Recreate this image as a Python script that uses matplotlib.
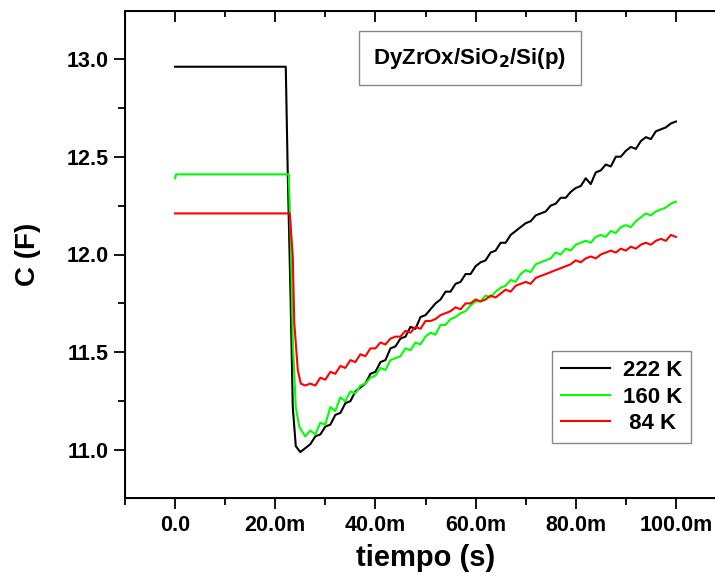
import numpy as np
import matplotlib
matplotlib.use("Agg")
import matplotlib.pyplot as plt
from matplotlib.ticker import FuncFormatter, MultipleLocator

plt.rcParams['font.family'] = ['Liberation Sans', 'DejaVu Sans']
plt.rcParams['font.weight'] = 'bold'

# times in ms; flat part + drop for each curve, then a common 1 ms grid
t_tail = np.arange(26, 101)

t_222 = [0, 22.1, 22.5, 23.1, 23.5, 24.1, 25.0]
c_222 = [12.96, 12.96, 12.41, 11.73, 11.22, 11.02, 10.99]
tail_222 = [11.01, 11.03, 11.07, 11.08, 11.12, 11.13, 11.18, 11.19, 11.24, 11.25,
            11.30, 11.32, 11.34, 11.39, 11.40, 11.45, 11.46, 11.52, 11.53, 11.57,
            11.58, 11.63, 11.62, 11.68, 11.69, 11.72, 11.75, 11.77, 11.81, 11.81,
            11.85, 11.86, 11.90, 11.90, 11.94, 11.96, 11.97, 12.01, 12.02, 12.06,
            12.06, 12.10, 12.12, 12.14, 12.16, 12.17, 12.20, 12.21, 12.22, 12.25,
            12.26, 12.29, 12.29, 12.32, 12.34, 12.35, 12.39, 12.36, 12.42, 12.43,
            12.46, 12.45, 12.50, 12.50, 12.53, 12.55, 12.54, 12.58, 12.60, 12.59,
            12.63, 12.64, 12.65, 12.67, 12.68]

t_160 = [0, 0.2, 22.7, 23.1, 23.5, 24.1, 24.8, 25.5]
c_160 = [12.39, 12.41, 12.41, 12.07, 11.56, 11.22, 11.12, 11.09]
tail_160 = [11.07, 11.10, 11.08, 11.14, 11.13, 11.22, 11.20, 11.27, 11.25, 11.30,
            11.29, 11.33, 11.34, 11.37, 11.38, 11.42, 11.41, 11.46, 11.47, 11.48,
            11.52, 11.51, 11.55, 11.54, 11.58, 11.60, 11.59, 11.64, 11.64, 11.67,
            11.68, 11.70, 11.71, 11.74, 11.76, 11.76, 11.79, 11.78, 11.81, 11.83,
            11.84, 11.87, 11.86, 11.90, 11.92, 11.91, 11.95, 11.96, 11.97, 11.98,
            12.01, 12.00, 12.03, 12.02, 12.05, 12.06, 12.07, 12.06, 12.09, 12.10,
            12.09, 12.12, 12.11, 12.14, 12.15, 12.14, 12.17, 12.19, 12.21, 12.20,
            12.22, 12.23, 12.24, 12.26, 12.27]

t_84 = [0, 22.9, 23.5, 23.8, 24.5, 25.1]
c_84 = [12.21, 12.21, 11.99, 11.65, 11.41, 11.34]
tail_84 = [11.33, 11.34, 11.33, 11.37, 11.36, 11.40, 11.39, 11.43, 11.42, 11.46,
           11.45, 11.49, 11.48, 11.52, 11.52, 11.55, 11.54, 11.57, 11.58, 11.58,
           11.61, 11.60, 11.63, 11.62, 11.66, 11.66, 11.67, 11.69, 11.70, 11.71,
           11.73, 11.72, 11.75, 11.75, 11.77, 11.76, 11.77, 11.79, 11.78, 11.80,
           11.82, 11.81, 11.84, 11.85, 11.86, 11.85, 11.88, 11.89, 11.90, 11.91,
           11.92, 11.93, 11.94, 11.95, 11.97, 11.96, 11.98, 11.99, 11.98, 12.00,
           12.01, 12.02, 12.01, 12.03, 12.02, 12.04, 12.03, 12.05, 12.06, 12.05,
           12.07, 12.08, 12.07, 12.10, 12.09]

series = [
    ("222 K", t_222, c_222, tail_222, "black"),
    ("160 K", t_160, c_160, tail_160, "#00ff00"),
    (" 84 K", t_84, c_84, tail_84, "red"),
]


def fmt_x(v, pos):
    if abs(v) < 1e-9:
        return "0.0"
    return "%.1fm" % (v * 1000)


fig = plt.figure(figsize=(7.15, 5.83), dpi=100)
ax = fig.add_axes([125 / 715, 85 / 583, 601 / 715, 487 / 583])

for label, t, c, tail, col in series:
    x = np.concatenate([np.array(t), t_tail]) * 1e-3
    y = np.concatenate([np.array(c), np.array(tail)])
    ax.plot(x, y, color=col, lw=1.5, label=label)

ax.set_xlim(-0.01, 0.11)
ax.set_ylim(10.755, 13.245)
ax.xaxis.set_major_locator(MultipleLocator(0.02))
ax.xaxis.set_minor_locator(MultipleLocator(0.01))
ax.yaxis.set_major_locator(MultipleLocator(0.5))
ax.yaxis.set_minor_locator(MultipleLocator(0.25))
ax.xaxis.set_major_formatter(FuncFormatter(fmt_x))
ax.yaxis.set_major_formatter(FuncFormatter(lambda v, p: "%.1f" % v))
ax.tick_params(which='major', direction='out', length=8, width=1.3, labelsize=15.5, pad=4)
ax.tick_params(which='minor', direction='out', length=5, width=1.3)
for lab in ax.get_xticklabels() + ax.get_yticklabels():
    lab.set_fontweight('bold')
for s in ax.spines.values():
    s.set_linewidth(1.4)

# ticks pointing inward on the top edge
top = ax.twiny()
top.set_xlim(ax.get_xlim())
top.xaxis.set_major_locator(MultipleLocator(0.02))
top.xaxis.set_minor_locator(MultipleLocator(0.01))
top.tick_params(which='major', direction='in', length=8, width=1.3, labeltop=False)
top.tick_params(which='minor', direction='in', length=4, width=1.3)

ax.set_xlabel("tiempo (s)", fontsize=21, fontweight='bold', labelpad=6)
ax.set_ylabel("C (F)", fontsize=20, fontweight='bold', labelpad=18)

ax.text(0.574, 0.903, r"DyZrOx/SiO$_\mathbf{2}$/Si(p)", transform=ax.transAxes,
        ha='center', va='center', fontsize=16,
        bbox=dict(boxstyle='square,pad=0.65', fc='white', ec='#888888', lw=1))

leg = ax.legend(loc='lower right', bbox_to_anchor=(0.942, 0.113), borderaxespad=0,
                prop={'weight': 'bold', 'size': 16}, fancybox=False, framealpha=1,
                edgecolor='#888888', handlelength=2.2, borderpad=0.4,
                labelspacing=0.25, handletextpad=0.6)
leg.get_frame().set_linewidth(1)

fig.savefig("out.png", dpi=100)
